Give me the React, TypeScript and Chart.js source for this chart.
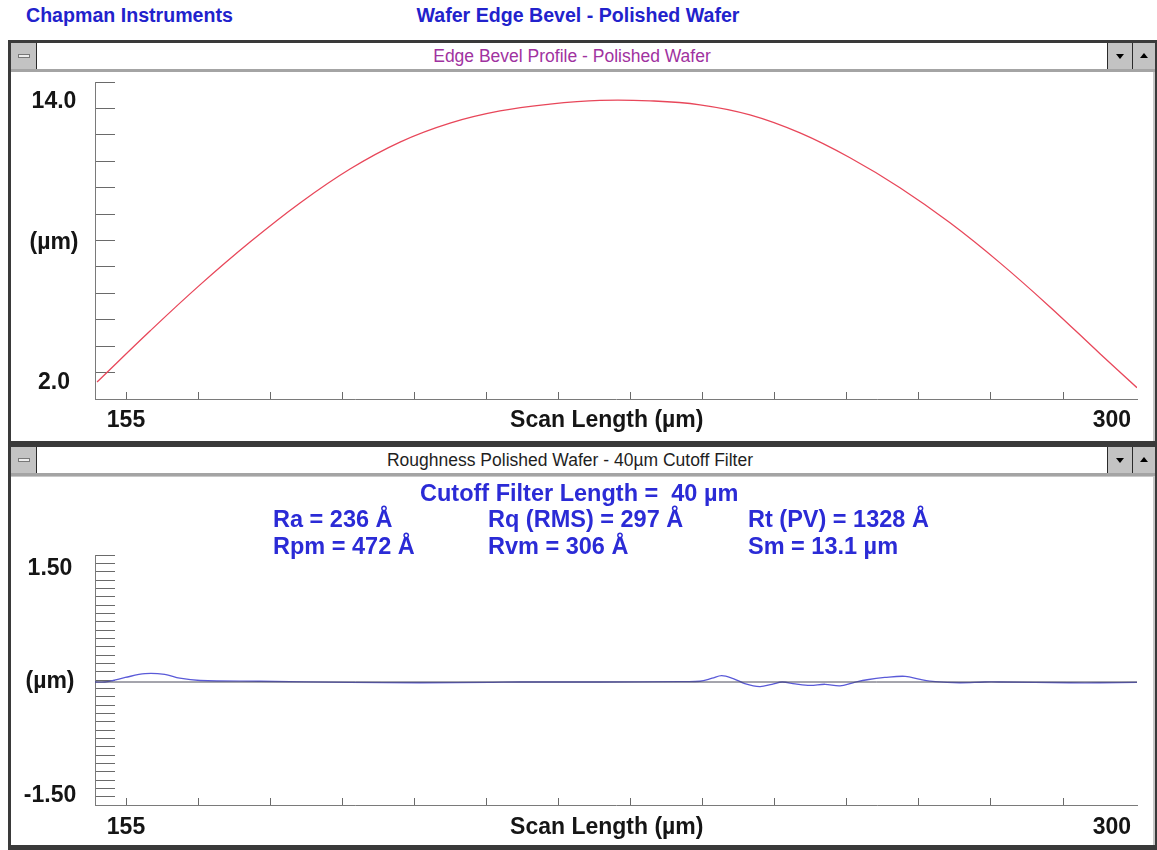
import React, { useEffect, useRef } from 'react';
import { Chart, registerables } from 'chart.js';

Chart.register(...registerables);

const FONT = "'Liberation Sans', Arial, Helvetica, sans-serif";

// ---------- profile (top) ----------
const profileScan = [150.74, 158.53, 165.88, 173.24, 180.59, 187.94, 195.29, 202.65, 210.0, 217.35, 224.71, 232.06, 239.41, 246.76, 254.12, 261.47, 268.82, 276.18, 283.53, 290.88, 298.24, 303.68];
const profileHeight = [2.04, 4.22, 6.19, 8.02, 9.69, 11.14, 12.29, 13.10, 13.62, 13.91, 14.07, 14.05, 13.88, 13.45, 12.68, 11.62, 10.34, 8.84, 7.13, 5.25, 3.25, 1.80];

// ---------- roughness (bottom) ----------
const roughScan = [150.44, 151.9, 153.1, 154.9, 157.8, 160.7, 162.9, 165.9, 174.7, 187.9, 198.2, 208.5, 212.9, 224.7, 236.5, 239.4, 241.2, 242.6, 244.3, 246.0, 248.2, 250.0, 251.5, 253.4, 255.6, 257.8, 260.0, 261.9, 264.0, 266.6, 269.6, 271.8, 274.0, 277.6, 281.3, 283.5, 293.8, 298.2, 303.68];
const roughHeight = [0.0, 0.0, 0.02, 0.06, 0.11, 0.10, 0.05, 0.02, 0.01, -0.005, -0.01, -0.005, 0.0, 0.0, 0.005, 0.01, 0.05, 0.085, 0.045, -0.02, -0.06, -0.03, 0.0, -0.025, -0.045, -0.03, -0.05, -0.01, 0.03, 0.06, 0.075, 0.035, 0.005, -0.01, 0.0, 0.0, -0.01, -0.01, -0.005];
const meanLine = [0, 0];

// ---------- axes ----------
const scanMin = 150.44;
const scanMax = 303.68;
const scanTickValues = [155, 225.7, 300];
const scanTickLabels = ['155', 'Scan Length (µm)', '300'];
const scanMarkStart = 155;
const scanMarkStep = 10.6;
const scanMarkCount = 14;

const profileMin = 1.317;
const profileMax = 14.854;
const profileTickValues = [14, 8, 2];
const profileTickLabels = ['14.0', '(µm)', '2.0'];
const profileMarkCount = 12;

const roughMin = -1.625;
const roughMax = 1.678;
const roughTickValues = [1.5, 0, -1.5];
const roughTickLabels = ['1.50', '(µm)', '-1.50'];
const roughMarkCount = 30;

// ---------- texts ----------
const headerLeft = 'Chapman Instruments';
const headerCenter = 'Wafer Edge Bevel - Polished Wafer';
const profileTitle = 'Edge Bevel Profile - Polished Wafer';
const roughTitle = 'Roughness Polished Wafer - 40µm Cutoff Filter';
const cutoffLine = 'Cutoff Filter Length =  40 µm';
const statsCol1 = ['Ra = 236 Å', 'Rpm = 472 Å'];
const statsCol2 = ['Rq (RMS) = 297 Å', 'Rvm = 306 Å'];
const statsCol3 = ['Rt (PV) = 1328 Å', 'Sm = 13.1 µm'];

const TICK_FONT_SIZE = 23;

type AxisSpec = { min: number; max: number; labelValues: number[]; labels: string[]; marks: number[] };

function axisTicks(spec: AxisSpec) {
  const all = [...spec.marks];
  spec.labelValues.forEach((v) => { if (!all.includes(v)) all.push(v); });
  return all.sort((a, b) => a - b).map((v) => ({ value: v }));
}

function makeChart(canvas: HTMLCanvasElement, o: {
  datasets: any[]; x: AxisSpec; y: AxisSpec; padTop: number; xAxisHeight: number; yAxisWidth: number;
  yLabelCenter: number; xLabelPad: number; yTickLen: number; xTickLen: number; padRight: number;
}) {
  const m = document.createElement('canvas').getContext('2d')!;
  m.font = `bold ${TICK_FONT_SIZE}px ${FONT}`;
  const widest = Math.max(...o.y.labels.map((t) => m.measureText(t).width));
  const yPad = o.yAxisWidth + o.yTickLen - o.yLabelCenter - widest / 2;
  const xUnmarked = o.x.labelValues.filter((v) => !o.x.marks.includes(v));
  const yUnmarked = o.y.labelValues.filter((v) => !o.y.marks.includes(v));
  const font = { family: FONT, size: TICK_FONT_SIZE, weight: 'bold' as const };
  return new Chart(canvas, {
    type: 'line',
    data: { datasets: o.datasets },
    options: {
      animation: false,
      responsive: false,
      maintainAspectRatio: false,
      layout: { padding: { left: 0, right: o.padRight, top: o.padTop, bottom: 0 } },
      plugins: { legend: { display: false }, tooltip: { enabled: false }, title: { display: false } },
      elements: { point: { radius: 0 } },
      scales: {
        x: {
          type: 'linear',
          min: o.x.min,
          max: o.x.max,
          afterBuildTicks: (s: any) => { s.ticks = axisTicks(o.x); },
          afterFit: (s: any) => { s.height = o.xAxisHeight; s.paddingLeft = 0; s.paddingRight = 0; s.paddingTop = 0; s.paddingBottom = 0; },
          ticks: {
            autoSkip: false, maxRotation: 0, minRotation: 0, padding: o.xLabelPad, color: '#151515', font,
            callback: (v: any) => { const i = o.x.labelValues.indexOf(v); return i >= 0 ? o.x.labels[i] : ''; },
          },
          grid: {
            drawOnChartArea: false, drawTicks: true, tickLength: -o.xTickLen, tickWidth: 1,
            tickColor: (c: any) => (c.tick && xUnmarked.includes(c.tick.value) ? 'rgba(0,0,0,0)' : '#6a6a6a'),
          },
          border: { display: true, color: '#7a7a7a', width: 1 },
        },
        y: {
          type: 'linear',
          min: o.y.min,
          max: o.y.max,
          afterBuildTicks: (s: any) => { s.ticks = axisTicks(o.y); },
          afterFit: (s: any) => { s.width = o.yAxisWidth; s.paddingLeft = 0; s.paddingRight = 0; s.paddingTop = 0; s.paddingBottom = 0; },
          ticks: {
            autoSkip: false, crossAlign: 'center', padding: yPad, color: '#151515', font,
            callback: (v: any) => { const i = o.y.labelValues.indexOf(v); return i >= 0 ? o.y.labels[i] : ''; },
          },
          grid: {
            drawOnChartArea: false, drawTicks: true, tickLength: -o.yTickLen, tickWidth: 1,
            tickColor: (c: any) => (c.tick && yUnmarked.includes(c.tick.value) ? 'rgba(0,0,0,0)' : '#6a6a6a'),
          },
          border: { display: true, color: '#7a7a7a', width: 1 },
        },
      },
    } as any,
  });
}

const abs = (l: number, t: number, w: number, h: number, extra: React.CSSProperties = {}): React.CSSProperties => ({
  position: 'absolute', left: l, top: t, width: w, height: h, ...extra,
});

function TitleBar({ top, title, color, center }: { top: number; title: string; color: string; center: number }) {
  return (
    <>
      <div style={abs(11, top, 1144, 26, { background: '#ffffff' })} />
      <div style={abs(11, top + 26, 1144, 3, { background: '#a4a4a4' })} />
      <div style={abs(11, top, 26, 26, { background: '#c3c3c3', borderRight: '1px solid #2a2a2a', boxSizing: 'border-box' })}>
        <div style={abs(7, 11, 12, 4, { background: '#ededed', border: '1px solid #777', boxSizing: 'border-box' })} />
      </div>
      <div style={abs(1107, top, 25, 26, { background: '#c3c3c3', borderLeft: '1px solid #2a2a2a', boxSizing: 'border-box' })}>
        <div style={abs(8, 11, 0, 0, { borderLeft: '4px solid transparent', borderRight: '4px solid transparent', borderTop: '5px solid #000' })} />
      </div>
      <div style={abs(1132, top, 23, 26, { background: '#c3c3c3', borderLeft: '1px solid #2a2a2a', boxSizing: 'border-box' })}>
        <div style={abs(7, 10, 0, 0, { borderLeft: '4px solid transparent', borderRight: '4px solid transparent', borderBottom: '5px solid #000' })} />
      </div>
      <div style={abs(center - 300, top, 600, 26, { textAlign: 'center', lineHeight: '26px', fontFamily: FONT, fontSize: 17.5, color, whiteSpace: 'pre' })}>
        {title}
      </div>
    </>
  );
}

export default function App() {
  const topRef = useRef<HTMLCanvasElement>(null);
  const botRef = useRef<HTMLCanvasElement>(null);

  useEffect(() => {
    const xMarks = Array.from({ length: scanMarkCount }, (_, k) => scanMarkStart + k * scanMarkStep);
    const xSpec: AxisSpec = { min: scanMin, max: scanMax, labelValues: scanTickValues, labels: scanTickLabels, marks: xMarks };
    const pSpec: AxisSpec = {
      min: profileMin, max: profileMax, labelValues: profileTickValues, labels: profileTickLabels,
      marks: Array.from({ length: profileMarkCount }, (_, k) => profileMin + ((k + 1) * (profileMax - profileMin)) / profileMarkCount),
    };
    const rSpec: AxisSpec = {
      min: roughMin, max: roughMax, labelValues: roughTickValues, labels: roughTickLabels,
      marks: Array.from({ length: roughMarkCount }, (_, k) => roughMin + ((k + 1) * (roughMax - roughMin)) / roughMarkCount),
    };
    const c1 = makeChart(topRef.current!, {
      datasets: [{
        data: profileScan.map((x, i) => ({ x, y: profileHeight[i] })),
        borderColor: '#e8475a', borderWidth: 1.3, tension: 0.4, pointRadius: 0, fill: false,
      }],
      x: xSpec, y: pSpec, padTop: 10, xAxisHeight: 42, yAxisWidth: 84, yLabelCenter: 43, xLabelPad: 15, yTickLen: 20, xTickLen: 7, padRight: 16,
    });
    const c2 = makeChart(botRef.current!, {
      datasets: [
        {
          data: [scanMin, scanMax].map((x, i) => ({ x, y: meanLine[i] })),
          borderColor: '#4a4a5a', borderWidth: 1, pointRadius: 0, fill: false,
        },
        {
          data: roughScan.map((x, i) => ({ x, y: roughHeight[i] })),
          borderColor: '#5a5ad8', borderWidth: 1.3, tension: 0.35, pointRadius: 0, fill: false,
        },
      ],
      x: xSpec, y: rSpec, padTop: 78, xAxisHeight: 40, yAxisWidth: 84, yLabelCenter: 39, xLabelPad: 16, yTickLen: 20, xTickLen: 7, padRight: 16,
    });
    return () => { c1.destroy(); c2.destroy(); };
  }, []);

  const statStyle: React.CSSProperties = { fontFamily: FONT, fontSize: 23.5, fontWeight: 'bold', color: '#2b2bd6', lineHeight: '26px', whiteSpace: 'pre' };
  const headStyle: React.CSSProperties = { fontFamily: FONT, fontSize: 19.6, fontWeight: 'bold', color: '#2222cc', lineHeight: '24px', whiteSpace: 'pre' };

  return (
    <div style={abs(0, 0, 1157, 850, { background: '#ffffff', overflow: 'hidden' })}>
      <div style={abs(26, 3, 300, 24, headStyle)}>{headerLeft}</div>
      <div style={abs(378, 3, 400, 24, { ...headStyle, textAlign: 'center' })}>{headerCenter}</div>

      {/* top window */}
      <div style={abs(8, 40, 1149, 404, { background: '#3a3a3a' })} />
      <TitleBar top={43} title={profileTitle} color="#a032a0" center={572} />
      <div style={abs(11, 72, 1144, 369, { background: '#c8c8c8' })} />
      <div style={abs(11, 72, 1142, 369, { background: '#ffffff' })} />
      <canvas ref={topRef} width={1142} height={369} style={abs(11, 72, 1142, 369)} />

      {/* bottom window */}
      <div style={abs(8, 444, 1149, 406, { background: '#3a3a3a' })} />
      <TitleBar top={447} title={roughTitle} color="#1e1e1e" center={570} />
      <div style={abs(11, 476, 1144, 369, { background: '#c8c8c8' })} />
      <div style={abs(11, 477, 1142, 368, { background: '#ffffff' })} />
      <canvas ref={botRef} width={1142} height={368} style={abs(11, 477, 1142, 368)} />

      <div style={abs(420, 480, 400, 26, statStyle)}>{cutoffLine}</div>
      {[statsCol1, statsCol2, statsCol3].map((col, ci) =>
        col.map((t, ri) => (
          <div key={`${ci}-${ri}`} style={abs([273, 488, 748][ci], 506 + ri * 27, 260, 26, statStyle)}>{t}</div>
        ))
      )}
    </div>
  );
}
